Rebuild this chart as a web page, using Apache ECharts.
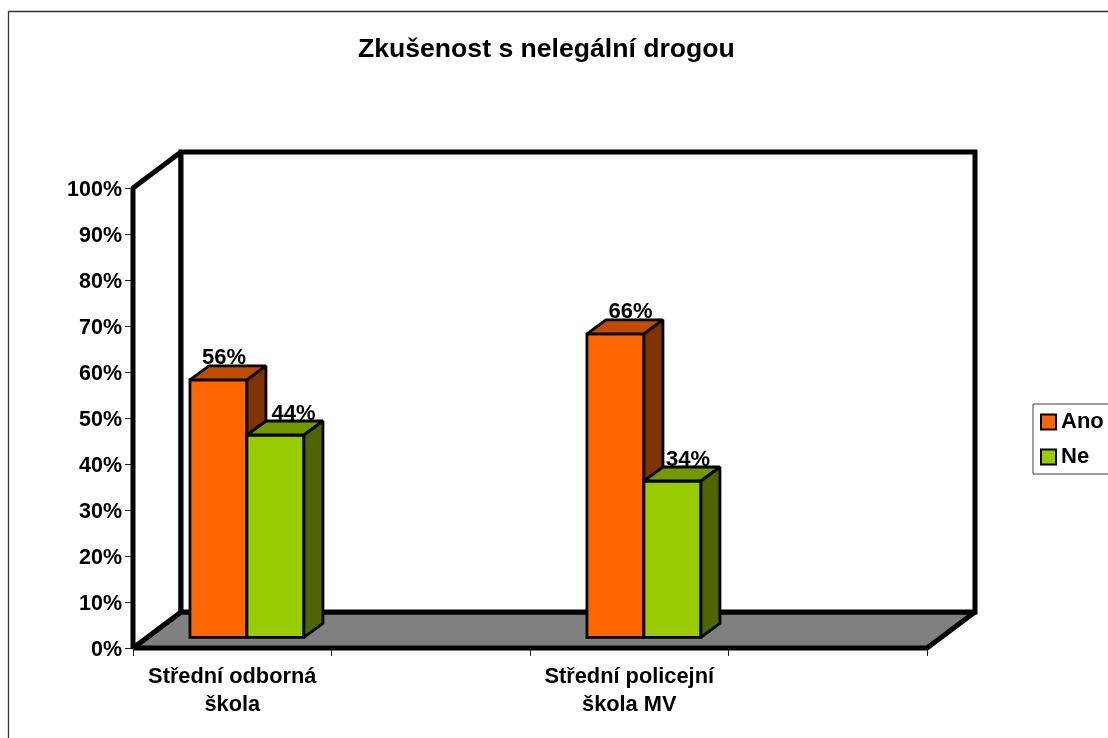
<!DOCTYPE html>
<html lang="cs">

<head>
    <meta charset="UTF-8">
    <title>Zkušenost s nelegální drogou</title>
    <script src="https://cdn.jsdelivr.net/npm/echarts@6/dist/echarts.min.js"></script>
    <style>
        html, body {
            margin: 0;
            background: #fff;
        }

        #chart {
            width: 1108px;
            height: 738px;
        }
    </style>
</head>

<body>
<div id="chart"></div>
<script>
    var categories = ['Střední odborná\nškola', '', 'Střední policejní\nškola MV', ''];
    var ano = [56, null, 66, null];
    var ne = [44, null, 34, null];
    var yTicks = [0, 10, 20, 30, 40, 50, 60, 70, 80, 90, 100];

    // hloubka grafu v pixelech
    var depthX = 48, depthY = 36;
    var barDepthX = 19, barDepthY = 14;
    var barFrontX = 14.7, barFrontY = 10.6;
    var barWidth = 57;
    var font = 'bold 22px "Liberation Sans", Arial, sans-serif';

    function poly(points, fill, width, join) {
        return {
            type: 'polygon',
            shape: {points: points},
            style: {fill: fill, stroke: '#000', lineWidth: width, lineJoin: join || 'miter'}
        };
    }

    function renderFrame(params, api) {
        var w = api.size([1, 0])[0];
        var x0 = api.coord([0, 0])[0] - w / 2;
        var x1 = x0 + w * categories.length;
        var y0 = api.coord([0, 0])[1];
        var y1 = api.coord([0, 100])[1];
        return {
            type: 'group',
            children: [
                poly([[x0, y0], [x1, y0], [x1 + depthX, y0 - depthY], [x0 + depthX, y0 - depthY]], '#808080', 5, 'bevel'),
                poly([[x0, y0], [x0, y1], [x0 + depthX, y1 - depthY], [x0 + depthX, y0 - depthY]], '#fff', 5, 'bevel'),
                poly([[x0 + depthX, y0 - depthY], [x0 + depthX, y1 - depthY], [x1 + depthX, y1 - depthY], [x1 + depthX, y0 - depthY]], '#fff', 5)
            ]
        };
    }

    function barRenderer(seriesIndex, colors, labelShift) {
        return function (params, api) {
            var val = api.value(1);
            var cat = api.value(0);
            var c0 = api.coord([cat, 0]);
            var c1 = api.coord([cat, val]);
            var left = c0[0] + barFrontX + (seriesIndex - 1) * barWidth;
            var right = left + barWidth;
            var bottom = c0[1] - barFrontY;
            var top = c1[1] - barFrontY;
            return {
                type: 'group',
                children: [
                    poly([[left, bottom], [left, top], [right, top], [right, bottom]], colors[0], 2.8),
                    poly([[left, top], [left + barDepthX, top - barDepthY], [right + barDepthX, top - barDepthY], [right, top]], colors[1], 2.8, 'bevel'),
                    poly([[right, top], [right + barDepthX, top - barDepthY], [right + barDepthX, bottom - barDepthY], [right, bottom]], colors[2], 2.8, 'bevel'),
                    {
                        type: 'text',
                        z2: 10,
                        style: {
                            text: val + '%',
                            x: left + barWidth / 2 + labelShift[params.dataIndex],
                            y: top - 21.5,
                            align: 'center',
                            verticalAlign: 'middle',
                            font: font,
                            fill: '#000'
                        }
                    }
                ]
            };
        };
    }

    function toData(values) {
        var out = [];
        values.forEach(function (v, i) {
            if (v !== null) {
                out.push([i, v]);
            }
        });
        return out;
    }

    var chart = echarts.init(document.getElementById('chart'));

    var option = {
        animation: false,
        backgroundColor: '#fff',
        title: {
            text: 'Zkušenost s nelegální drogou',
            left: 358,
            top: 36,
            padding: 0,
            textStyle: {
                fontFamily: '"Liberation Sans", Arial, sans-serif',
                fontWeight: 'bold',
                fontSize: 26.6,
                color: '#000'
            }
        },
        legend: {
            data: ['Ano', 'Ne'],
            orient: 'vertical',
            left: 1033,
            top: 404,
            padding: [7, 14, 6, 7],
            itemWidth: 15,
            itemHeight: 15,
            itemGap: 13,
            icon: 'rect',
            backgroundColor: '#fff',
            borderColor: '#404040',
            borderWidth: 1,
            textStyle: {
                fontFamily: '"Liberation Sans", Arial, sans-serif',
                fontWeight: 'bold',
                fontSize: 22,
                color: '#000',
                padding: [2, 0, 0, 0]
            }
        },
        grid: {
            left: 133,
            right: 181,
            top: 188,
            bottom: 90,
            containLabel: false
        },
        xAxis: {
            type: 'category',
            data: categories,
            axisLine: {show: false},
            axisTick: {show: true, length: 8, lineStyle: {color: '#222', width: 1}},
            axisLabel: {
                interval: 0,
                margin: 15,
                lineHeight: 28,
                fontFamily: '"Liberation Sans", Arial, sans-serif',
                fontWeight: 'bold',
                fontSize: 21.8,
                color: '#000'
            },
            z: 5
        },
        yAxis: {
            type: 'value',
            min: yTicks[0],
            max: yTicks[yTicks.length - 1],
            interval: 10,
            splitLine: {show: false},
            axisLine: {show: false},
            axisTick: {show: true, length: 8, lineStyle: {color: '#222', width: 1}},
            axisLabel: {
                margin: 11,
                formatter: '{v|{value}%}',
                rich: {
                    v: {
                        padding: [4, 0, 0, 0],
                        fontFamily: '"Liberation Sans", Arial, sans-serif',
                        fontWeight: 'bold',
                        fontSize: 21.5,
                        color: '#000'
                    }
                }
            }
        },
        graphic: [{
            type: 'rect',
            silent: true,
            z: -10,
            shape: {x: 8.5, y: 11.5, width: 1200, height: 800},
            style: {fill: '#fff', stroke: '#333', lineWidth: 1.3}
        }],
        series: [
            {
                name: 'frame',
                type: 'custom',
                clip: false,
                z: 1,
                silent: true,
                encode: {x: 0, y: 1},
                data: [[0, 0]],
                renderItem: renderFrame
            },
            {
                name: 'Ano',
                type: 'custom',
                clip: false,
                z: 2,
                itemStyle: {color: '#FF6600', borderColor: '#000', borderWidth: 2.8},
                encode: {x: 0, y: 1},
                data: toData(ano),
                renderItem: barRenderer(0, ['#FF6600', '#BF4C00', '#803300'], {0: 5.5, 1: 15})
            },
            {
                name: 'Ne',
                type: 'custom',
                clip: false,
                z: 3,
                itemStyle: {color: '#99CC00', borderColor: '#000', borderWidth: 2.8},
                encode: {x: 0, y: 1},
                data: toData(ne),
                renderItem: barRenderer(1, ['#99CC00', '#739900', '#4D6600'], {0: 18, 1: 15.5})
            }
        ]
    };
    chart.setOption(option);
</script>
</body>

</html>
